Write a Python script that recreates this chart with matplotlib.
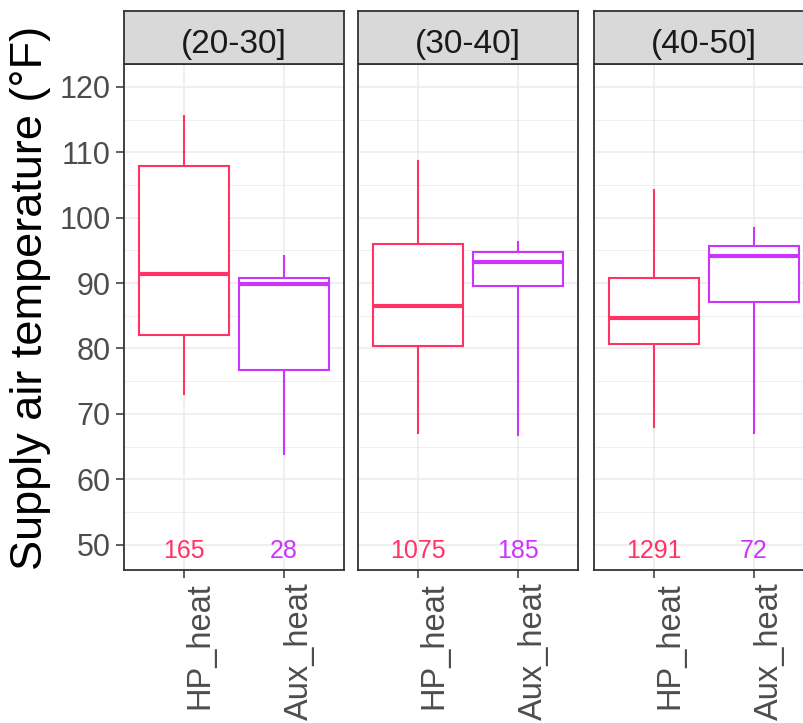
import matplotlib
matplotlib.use("Agg")
import matplotlib.pyplot as plt
from matplotlib.patches import Rectangle

plt.rcParams['font.family'] = ['Liberation Sans', 'DejaVu Sans']

facets = ["(20-30]", "(30-40]", "(40-50]"]
categories = ["HP_heat", "Aux_heat"]
colors = ["#FF3366", "#CC33FF"]

# per facet: [HP, Aux] stats
whisk_lo = [[73.1, 63.8], [67.0, 66.7], [68.0, 67.0]]
q1 = [[82.0, 76.7], [80.4, 89.6], [80.7, 87.1]]
med = [[91.4, 89.9], [86.5, 93.2], [84.7, 94.1]]
q3 = [[107.9, 90.7], [95.9, 94.7], [90.8, 95.7]]
whisk_hi = [[115.5, 94.1], [108.7, 96.3], [104.2, 98.4]]
counts = [[165, 28], [1075, 185], [1291, 72]]
count_y = 47.9

yticks = [50, 60, 70, 80, 90, 100, 110, 120]
ylim = (46.2, 123.5)

W, H = 804, 723
fig = plt.figure(figsize=(W / 100, H / 100), dpi=100)

panel_left = [124.3, 358.3, 594.3]
panel_w = 219.5
panel_top = 64.0
panel_bot = 569.5
strip_top = 10.7

def fx(px):
    return px / W

def fy(py):
    return 1 - py / H

for i, fac in enumerate(facets):
    ax = fig.add_axes([fx(panel_left[i]), fy(panel_bot), panel_w / W, (panel_bot - panel_top) / H])
    ax.set_xlim(0.4, 2.6)
    ax.set_ylim(*ylim)
    ax.set_facecolor("white")
    # grid
    for y in yticks:
        ax.axhline(y, color="#EBEBEB", lw=1.1, zorder=0)
    for y in [v + 5 for v in yticks[:-1]] + [45, 125]:
        ax.axhline(y, color="#EBEBEB", lw=0.55, zorder=0)
    for x in [1, 2]:
        ax.axvline(x, color="#EBEBEB", lw=1.1, zorder=0)
    for j in range(2):
        x = j + 1
        c = colors[j]
        bw = 0.9
        ax.add_patch(Rectangle((x - bw / 2, q1[i][j]), bw, q3[i][j] - q1[i][j],
                               facecolor="white", edgecolor=c, lw=1.5, zorder=3))
        ax.plot([x - bw / 2, x + bw / 2], [med[i][j], med[i][j]], color=c, lw=3, zorder=4,
                solid_capstyle="butt")
        ax.plot([x, x], [q3[i][j], whisk_hi[i][j]], color=c, lw=1.5, zorder=2)
        ax.plot([x, x], [whisk_lo[i][j], q1[i][j]], color=c, lw=1.5, zorder=2)
        ax.text(x, count_y, str(counts[i][j]), color=c, fontsize=18, ha="center", va="baseline", zorder=5)
    ax.set_xticks([1, 2])
    ax.set_xticklabels(categories, rotation=90, fontsize=23.5, color="#4D4D4D", ha="left", va="top")
    ax.tick_params(axis="x", length=5.5, width=1.1, color="#333333", pad=4)
    if i == 0:
        ax.set_yticks(yticks)
        ax.set_yticklabels([str(v) for v in yticks], fontsize=22, color="#4D4D4D")
        ax.tick_params(axis="y", length=5.5, width=1.1, color="#333333", pad=4.5)
    else:
        ax.set_yticks([])
    for s in ax.spines.values():
        s.set_color("#333333")
        s.set_linewidth(1.3)
    # strip
    sax = fig.add_axes([fx(panel_left[i]), fy(panel_top), panel_w / W, (panel_top - strip_top) / H])
    sax.set_facecolor("#D9D9D9")
    sax.set_xticks([])
    sax.set_yticks([])
    for s in sax.spines.values():
        s.set_color("#333333")
        s.set_linewidth(1.3)
    sax.text(0.5, 0.2, fac, ha="center", va="baseline", fontsize=24, color="#1A1A1A", transform=sax.transAxes)

fig.text(fx(10), fy(298), "Supply air temperature (°F)", rotation=90, fontsize=32.5,
         color="black", ha="left", va="center")

fig.savefig("out.png", dpi=100, facecolor="white")
